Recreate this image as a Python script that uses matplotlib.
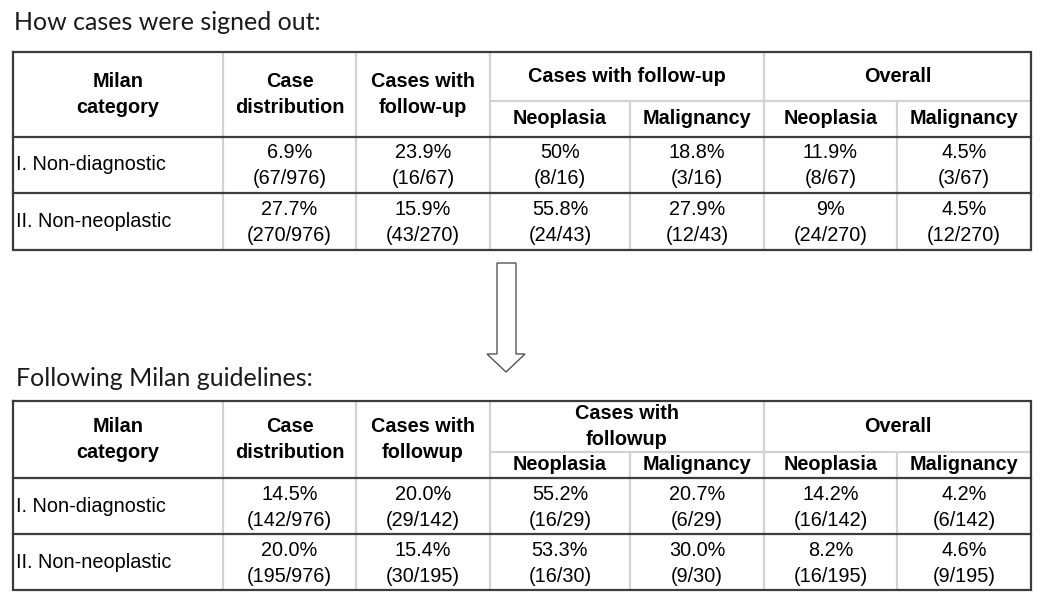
import matplotlib
matplotlib.use('Agg')
import matplotlib.pyplot as plt
from matplotlib.patches import Polygon

# ---------------- data ----------------
title_before = "How cases were signed out:"
title_after = "Following Milan guidelines:"
categories = ["I. Non-diagnostic", "II. Non-neoplastic"]
header_cat = "Milan\ncategory"
header_dist = "Case\ndistribution"
header_fu_before = "Cases with\nfollow-up"
header_fu_after = "Cases with\nfollowup"
group_fu_before = "Cases with follow-up"
group_fu_after = "Cases with\nfollowup"
group_overall = "Overall"
sub_headers = ["Neoplasia", "Malignancy", "Neoplasia", "Malignancy"]

before_pct = [["6.9%", "23.9%", "50%", "18.8%", "11.9%", "4.5%"],
              ["27.7%", "15.9%", "55.8%", "27.9%", "9%", "4.5%"]]
before_frac = [["(67/976)", "(16/67)", "(8/16)", "(3/16)", "(8/67)", "(3/67)"],
               ["(270/976)", "(43/270)", "(24/43)", "(12/43)", "(24/270)", "(12/270)"]]
after_pct = [["14.5%", "20.0%", "55.2%", "20.7%", "14.2%", "4.2%"],
             ["20.0%", "15.4%", "53.3%", "30.0%", "8.2%", "4.6%"]]
after_frac = [["(142/976)", "(29/142)", "(16/29)", "(6/29)", "(16/142)", "(6/142)"],
              ["(195/976)", "(30/195)", "(16/30)", "(9/30)", "(16/195)", "(9/195)"]]

# ---------------- layout ----------------
W, H = 1050, 604
fig = plt.figure(figsize=(W / 100, H / 100), dpi=100)
ax = fig.add_axes([0, 0, 1, 1])
ax.set_xlim(0, W)
ax.set_ylim(H, 0)
ax.axis('off')
fig.patch.set_facecolor('white')

col_edges = [13, 223, 356, 490, 630, 764, 897, 1031]
DARK = '#3c3c3c'
LIGHT = '#d2d2d2'
FS = 14.3
FONT = 'Liberation Sans'
TITLE_FONT = 'Lato'
LINE_GAP = 26


def multiline(x, yc, text, bold=False, ha='center'):
    lines = text.split('\n')
    n = len(lines)
    for i, ln in enumerate(lines):
        y = yc + (i - (n - 1) / 2) * LINE_GAP
        ax.text(x, y, ln, ha=ha, va='center', fontsize=FS, family=FONT,
                fontweight='bold' if bold else 'normal', color='black')


def draw_table(top, sub, hdr, rowsep, bottom, fu_header, fu_group, pct, frac):
    x0, x1 = col_edges[0], col_edges[-1]
    # light vertical lines
    for i, xe in enumerate(col_edges[1:-1], start=1):
        ystart = sub if i in (4, 6) else top
        ax.plot([xe, xe], [ystart, bottom], color=LIGHT, lw=1.6, solid_capstyle='butt', zorder=1)
    # light sub-header line
    ax.plot([col_edges[3], x1], [sub, sub], color=LIGHT, lw=1.6, zorder=1)
    # dark horizontal lines
    for yy in (hdr, rowsep):
        ax.plot([x0, x1], [yy, yy], color=DARK, lw=1.6, zorder=2)
    # outer border
    ax.plot([x0, x1, x1, x0, x0], [top, top, bottom, bottom, top], color=DARK, lw=1.6,
            zorder=3, solid_joinstyle='miter')

    hc = (top + hdr) / 2
    cx = [(col_edges[i] + col_edges[i + 1]) / 2 for i in range(len(col_edges) - 1)]
    multiline(cx[0], hc, header_cat, bold=True)
    multiline(cx[1], hc, header_dist, bold=True)
    multiline(cx[2], hc, fu_header, bold=True)
    gc = (top + sub) / 2
    multiline((col_edges[3] + col_edges[5]) / 2, gc, fu_group, bold=True)
    multiline((col_edges[5] + col_edges[7]) / 2, gc, group_overall, bold=True)
    sc = (sub + hdr) / 2
    for j, sh in enumerate(sub_headers):
        multiline(cx[3 + j], sc, sh, bold=True)

    row_bounds = [(hdr, rowsep), (rowsep, bottom)]
    for r, (ya, yb) in enumerate(row_bounds):
        rc = (ya + yb) / 2
        ax.text(col_edges[0] + 3, rc, categories[r], ha='left', va='center',
                fontsize=FS, family=FONT, color='black')
        for c in range(6):
            ax.text(cx[c + 1], rc - 12, pct[r][c], ha='center', va='center',
                    fontsize=FS, family=FONT, color='black')
            ax.text(cx[c + 1], rc + 14, frac[r][c], ha='center', va='center',
                    fontsize=FS, family=FONT, color='black')


ax.text(14, 23, title_before, ha='left', va='center', fontsize=18, family=TITLE_FONT, color='#1a1a1a')
ax.text(16, 379, title_after, ha='left', va='center', fontsize=18, family=TITLE_FONT, color='#1a1a1a')

draw_table(52, 101, 137, 193, 250, header_fu_before, group_fu_before, before_pct, before_frac)
draw_table(401, 452, 478, 534, 590, header_fu_after, group_fu_after, after_pct, after_frac)

# hollow down arrow between tables
arrow = Polygon([(497, 263), (516, 263), (516, 354), (525, 354), (506, 372),
                 (487, 354), (497, 354)], closed=True, facecolor='white',
                edgecolor='#555555', lw=1.0)
ax.add_patch(arrow)

fig.savefig('out.png', dpi=100, facecolor='white')
